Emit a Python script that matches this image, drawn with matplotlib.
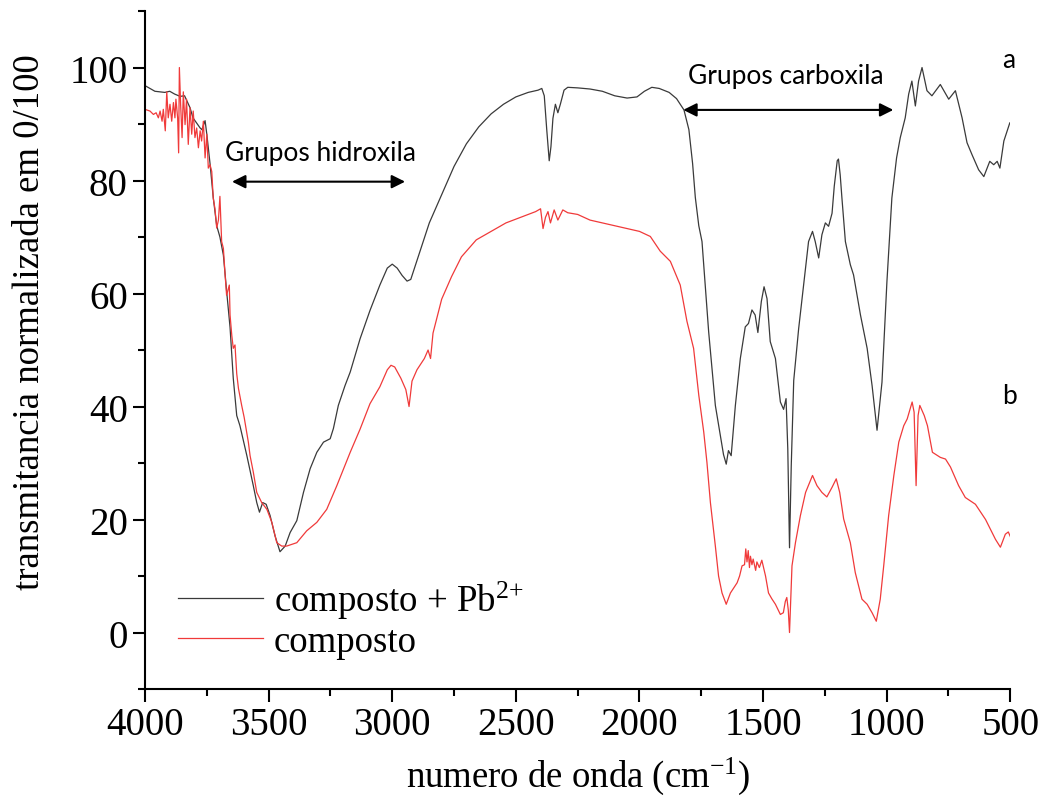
import numpy as np
from matplotlib import pyplot as plt
from matplotlib.ticker import MultipleLocator

# espectro a: composto + Pb2+
wave_a = [4000, 3960, 3920, 3900, 3880, 3858, 3840, 3818, 3806, 3777, 3770,
          3757, 3750, 3737, 3724, 3710, 3697, 3683, 3670, 3656, 3643, 3629,
          3616, 3588, 3562, 3548, 3537, 3524, 3510, 3494, 3474, 3454, 3433,
          3413, 3386, 3359, 3332, 3305, 3278, 3251, 3238, 3218, 3191, 3170,
          3130, 3090, 3050, 3020, 3000, 2980, 2960, 2940, 2925, 2910, 2880,
          2850, 2800, 2750, 2700, 2650, 2600, 2550, 2500, 2450, 2410, 2395,
          2385, 2375, 2365, 2358, 2350, 2340, 2330, 2320, 2305, 2290, 2250,
          2200, 2150, 2100, 2050, 2010, 1980, 1950, 1920, 1880, 1850, 1820,
          1800, 1785, 1774, 1760, 1747, 1720, 1693, 1673, 1660, 1649, 1640,
          1629, 1612, 1592, 1572, 1559, 1545, 1532, 1521, 1507, 1496, 1484,
          1471, 1450, 1430, 1417, 1407, 1400, 1393, 1386, 1376, 1356, 1336,
          1316, 1300, 1289, 1275, 1262, 1248, 1235, 1221, 1212, 1200, 1195,
          1188, 1181, 1167, 1147, 1134, 1106, 1079, 1059, 1039, 1019, 999,
          979, 960, 945, 925, 911, 898, 884, 871, 857, 837, 817, 783, 749,
          722, 695, 675, 655, 628, 607, 583, 567, 553, 542, 526, 502]
trans_a = [96.8, 95.8, 95.6, 95.8, 95.3, 94.9, 95.0, 92.9, 91.1, 89.3, 89.0,
           90.6, 88.2, 83.0, 77.0, 72.0, 70.0, 66.8, 60.5, 54.0, 45.0, 38.4,
           36.6, 31.3, 26.0, 23.0, 21.3, 23.0, 22.7, 20.7, 17.1, 14.3, 15.3,
           17.7, 19.8, 24.8, 29.0, 31.9, 33.7, 34.3, 36.1, 40.2, 43.7, 46.1,
           52.0, 57.0, 61.5, 64.5, 65.2, 64.5, 63.2, 62.2, 62.5, 64.5, 68.5,
           72.5, 77.5, 82.5, 86.5, 89.5, 91.8, 93.5, 94.8, 95.6, 96.0, 96.3,
           95.0, 89.0, 83.5, 86.0, 91.0, 93.5, 92.0, 93.5, 96.0, 96.5, 96.4,
           96.2, 95.8, 95.0, 94.6, 94.8, 95.8, 96.5, 96.3, 95.6, 94.5, 92.5,
           89.0, 83.0, 77.0, 72.0, 69.2, 53.2, 40.2, 34.9, 31.5, 29.8, 32.2,
           31.3, 40.2, 48.5, 54.1, 54.7, 57.1, 56.2, 53.1, 58.6, 61.2, 59.1,
           51.5, 48.5, 40.8, 39.5, 41.4, 32.5, 15.0, 29.5, 44.6, 53.8, 61.5,
           69.2, 71.0, 69.2, 66.3, 70.4, 72.5, 71.9, 74.2, 79.0, 83.5, 83.8,
           81.0, 76.9, 69.2, 65.1, 63.3, 56.2, 50.3, 43.7, 35.8, 44.3, 62.1,
           76.9, 84.0, 87.6, 91.1, 95.3, 97.6, 93.2, 97.6, 100.0, 95.9, 95.0,
           97.0, 94.4, 95.9, 91.1, 86.7, 84.6, 81.9, 80.7, 83.4, 82.8, 83.4,
           82.2, 87.0, 90.2]

# espectro b: composto
wave_b = [4000, 3980, 3966, 3955, 3946, 3939, 3931, 3926, 3918, 3912, 3906,
          3899, 3892, 3885, 3879, 3875, 3868, 3864, 3861, 3856, 3850, 3845,
          3838, 3832, 3825, 3818, 3811, 3805, 3798, 3791, 3784, 3777, 3771,
          3764, 3757, 3750, 3744, 3737, 3730, 3724, 3717, 3710, 3703, 3697,
          3690, 3683, 3676, 3670, 3659, 3656, 3649, 3643, 3636, 3629, 3622,
          3609, 3599, 3582, 3575, 3562, 3548, 3528, 3507, 3487, 3467, 3447,
          3427, 3386, 3346, 3305, 3265, 3224, 3170, 3130, 3090, 3050, 3020,
          3005, 2990, 2965, 2945, 2932, 2920, 2900, 2870, 2855, 2845, 2835,
          2800, 2760, 2720, 2660, 2600, 2540, 2480, 2420, 2400, 2390, 2380,
          2370, 2360, 2345, 2330, 2310, 2290, 2250, 2200, 2150, 2100, 2050,
          2000, 1956, 1916, 1875, 1835, 1808, 1781, 1760, 1740, 1727, 1713,
          1693, 1680, 1666, 1649, 1632, 1605, 1595, 1585, 1575, 1570, 1565,
          1560, 1555, 1551, 1545, 1540, 1530, 1525, 1515, 1505, 1498, 1490,
          1478, 1465, 1450, 1430, 1418, 1410, 1404, 1398, 1393, 1388, 1383,
          1369, 1349, 1328, 1300, 1282, 1262, 1242, 1221, 1204, 1190, 1174,
          1147, 1127, 1100, 1079, 1059, 1042, 1026, 1012, 992, 971, 951, 931,
          917, 897, 889, 881, 873, 866, 848, 835, 815, 783, 762, 742, 709,
          682, 641, 600, 560, 540, 520, 508, 500]
trans_b = [92.6, 92.3, 91.7, 92.0, 91.1, 92.3, 90.5, 92.6, 88.8, 95.7, 91.1,
           93.5, 90.5, 93.8, 91.1, 94.4, 91.1, 84.9, 100.0, 93.5, 87.6, 95.7,
           89.9, 94.4, 86.4, 92.9, 88.2, 92.3, 87.6, 89.3, 85.8, 88.8, 87.0,
           90.5, 84.0, 88.2, 82.2, 82.8, 81.6, 76.9, 75.0, 71.6, 73.0, 77.2,
           69.2, 68.0, 63.3, 59.7, 61.5, 56.2, 52.6, 50.3, 50.9, 45.8, 43.2,
           40.2, 38.1, 33.7, 31.3, 28.4, 24.8, 23.0, 21.8, 19.5, 15.9, 15.3,
           15.3, 15.9, 18.0, 19.5, 21.8, 26.0, 31.9, 36.0, 40.5, 43.5, 46.5,
           47.3, 47.0, 45.0, 43.0, 40.0, 44.5, 46.5, 48.5, 50.0, 48.5, 53.0,
           59.0, 63.0, 66.5, 69.5, 71.0, 72.5, 73.5, 74.5, 75.0, 71.5, 73.5,
           74.5, 72.5, 74.8, 73.0, 74.8, 74.3, 74.0, 73.0, 72.5, 72.0, 71.5,
           71.0, 70.1, 67.5, 65.7, 61.5, 55.1, 50.3, 42.0, 35.5, 30.1, 23.0,
           15.3, 10.0, 7.0, 5.0, 7.0, 8.8, 10.0, 11.8, 12.0, 14.8, 12.5,
           14.5, 11.5, 13.5, 12.0, 13.0, 11.0, 12.5, 11.5, 12.8, 11.5, 10.0,
           7.0, 6.0, 5.0, 3.2, 3.5, 5.5, 6.2, 4.0, 0.0, 6.0, 11.8,
           15.9, 20.7, 24.8, 27.8, 26.0, 24.8, 24.0, 25.7, 27.2, 24.8, 20.1,
           15.9, 10.6, 5.9, 5.0, 3.5, 2.0, 5.9, 11.8, 20.7, 27.8, 33.7, 36.6,
           37.8, 40.8, 39.0, 26.0, 38.4, 40.2, 38.4, 36.6, 31.9, 31.0, 30.7,
           29.3, 26.0, 23.9, 22.7, 20.0, 16.5, 15.1, 17.4, 17.8, 17.0]

labels = [r"composto + Pb$^{2\!+}$", "composto"]
colors = ["#3a3a3a", "#f03a3a"]


def main():
    plt.rcParams["font.family"] = ["Liberation Serif", "DejaVu Serif"]
    plt.rcParams["mathtext.fontset"] = "custom"
    plt.rcParams["mathtext.rm"] = "Liberation Serif"
    plt.rcParams["mathtext.it"] = "Liberation Serif:italic"
    plt.rcParams["mathtext.default"] = "regular"
    fig = plt.figure(figsize=(10.38, 8.03), dpi=100)
    ax = fig.add_axes([0.1397, 0.1407, 0.8336, 0.8443])

    ax.plot(wave_a, trans_a, color=colors[0], lw=0.9, label=labels[0])
    ax.plot(wave_b, trans_b, color=colors[1], lw=0.9, label=labels[1])

    ax.set_xlim(4000, 500)
    ax.set_ylim(-10, 110)
    ax.xaxis.set_major_locator(MultipleLocator(500))
    ax.xaxis.set_minor_locator(MultipleLocator(250))
    ax.yaxis.set_major_locator(MultipleLocator(20))
    ax.yaxis.set_minor_locator(MultipleLocator(10))
    ax.tick_params(which="major", direction="out", length=9, width=1.5,
                   labelsize=28)
    ax.tick_params(which="minor", direction="out", length=5, width=1.5)
    for side in ["top", "right"]:
        ax.spines[side].set_visible(False)
    for side in ["left", "bottom"]:
        ax.spines[side].set_linewidth(1.5)

    ax.set_xlabel("numero de onda (cm$^{-1}$)", fontsize=26.5, labelpad=8)
    ax.set_ylabel("transmitancia normalizada em 0/100", fontsize=26.5)
    ax.yaxis.set_label_coords(-0.113, 0.543)

    sans = "Lato"
    arrow = dict(arrowstyle="<|-|>", color="black", lw=1.5,
                 mutation_scale=20, shrinkA=0, shrinkB=0)
    ax.annotate("", xy=(3648, 79.8), xytext=(2948, 79.8), arrowprops=arrow)
    ax.text(3290, 85.0, "Grupos hidroxila", family=sans, fontsize=19,
            ha="center", va="center")
    ax.annotate("", xy=(1823, 92.5), xytext=(973, 92.5), arrowprops=arrow)
    ax.text(1410, 98.6, "Grupos carboxila", family=sans, fontsize=19,
            ha="center", va="center")
    ax.text(505, 101.5, "a", family=sans, fontsize=19, ha="center",
            va="center")
    ax.text(505, 42.0, "b", family=sans, fontsize=19, ha="center",
            va="center")

    ax.legend(loc="lower left", bbox_to_anchor=(0.0, -0.005), frameon=False,
              fontsize=26.5, handlelength=2.3, handletextpad=0.3,
              labelspacing=0.1, borderaxespad=0.5)

    fig.savefig("out.png", dpi=100)


if __name__ == "__main__":
    main()
